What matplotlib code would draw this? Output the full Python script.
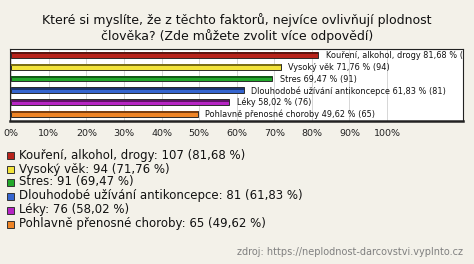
import matplotlib
matplotlib.use("Agg")
import matplotlib.pyplot as plt
from matplotlib.patches import Rectangle

plt.rcParams['font.family'] = ['DejaVu Sans']

title = "Které si myslíte, že z těchto faktorů, nejvíce ovlivňují plodnost\nčlověka? (Zde můžete zvolit více odpovědí)"
categories = ["Kouření, alkohol, drogy", "Vysoký věk", "Stres",
              "Dlouhodobé užívání antikoncepce", "Léky", "Pohlavně přenosné choroby"]
counts = [107, 94, 91, 81, 76, 65]
percents = [81.68, 71.76, 69.47, 61.83, 58.02, 49.62]
colors = ["#b8231b", "#f2e33a", "#22a82a", "#3565cf", "#b624c4", "#ee8426"]
shades = ["#5e1510", "#7a6e15", "#125a16", "#1a3470", "#5e1266", "#7a3e10"]
tick_labels = ["0%", "10%", "20%", "30%", "40%", "50%", "60%", "70%", "80%", "90%", "100%"]
source = "zdroj: https://neplodnost-darcovstvi.vyplnto.cz"

bg = "#f3f1e9"

def fmt(v):
    return f"{v:.2f}".replace(".", ",")

fig = plt.figure(figsize=(4.74, 2.64), dpi=100, facecolor=bg)
ax = fig.add_axes([10 / 474, 1 - 121 / 264, 453 / 474, 72 / 264])
ax.set_facecolor("white")

ypos = list(range(len(categories)))
ax.barh(ypos, percents, height=0.5, color=colors, edgecolor="#2a2a2a", linewidth=0.7, zorder=3)
ax.barh([y - 0.13 for y in ypos], percents, height=0.16, color=shades, linewidth=0, zorder=4)

for y, cat, p, n in zip(ypos, categories, percents, counts):
    ax.text(p + 2.0, y + 0.05, f"{cat} {fmt(p)} % ({n})", fontsize=5.9, va="center",
            ha="left", color="#111111", clip_on=True, zorder=5)

ax.set_xlim(-0.3, 120.2)
ax.set_ylim(5.6, -0.5)
ax.set_xticks(range(0, 101, 10))
ax.set_xticklabels(tick_labels, fontsize=6.8, color="#222222")
ax.tick_params(axis="x", length=0, pad=6)
ax.set_yticks([])
ax.grid(axis="x", color="#d0d0d0", linewidth=0.6, zorder=0)
for s in ["top", "left", "right"]:
    ax.spines[s].set_color("#222222")
    ax.spines[s].set_linewidth(0.8)
ax.spines["bottom"].set_color("#222222")
ax.spines["bottom"].set_linewidth(1.8)

fig.text(237 / 474, 1 - 28 / 264, title, ha="center", va="center", fontsize=9.0,
         color="#111111", linespacing=1.1)

# legend
leg_y = [155, 169, 182, 196, 210, 224]
for yy, cat, p, n, c in zip(leg_y, categories, percents, counts, colors):
    fig.patches.append(Rectangle((7 / 474, 1 - (yy + 3.5) / 264), 7 / 474, 7 / 264,
                                 transform=fig.transFigure, facecolor=c,
                                 edgecolor="#333333", linewidth=0.7))
    fig.text(19 / 474, 1 - yy / 264, f"{cat}: {n} ({fmt(p)} %)", ha="left", va="center",
             fontsize=8.5, color="#111111")

fig.text(463 / 474, 1 - 252 / 264, source, ha="right", va="center", fontsize=7.0,
         color="#808080")

fig.savefig("out.png", dpi=100, facecolor=bg)
